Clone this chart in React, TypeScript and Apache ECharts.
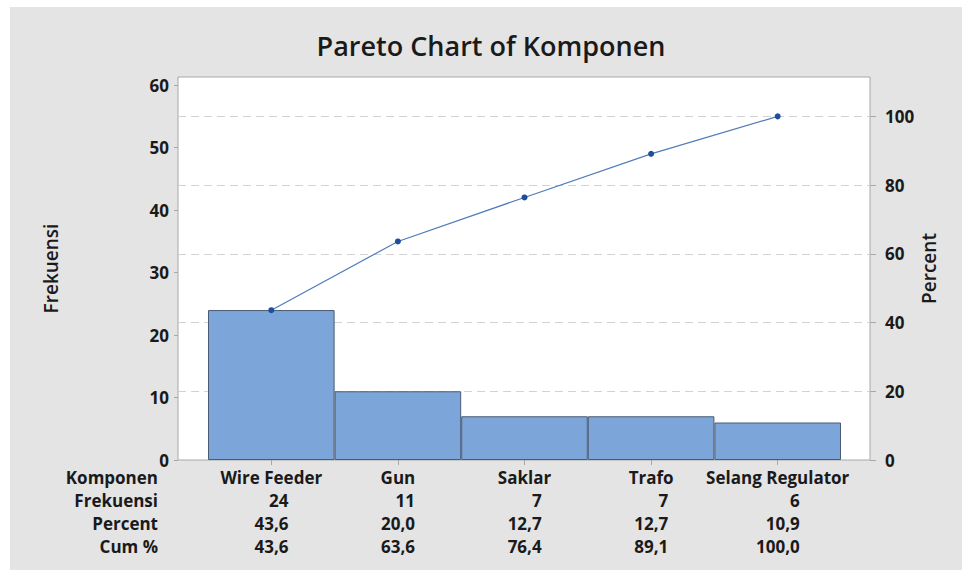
import React, { useEffect, useRef } from "react";
import * as echarts from "echarts";

const titleText = "Pareto Chart of Komponen";
const categories = ["Wire Feeder", "Gun", "Saklar", "Trafo", "Selang Regulator"];
const frekuensi = [24, 11, 7, 7, 6];
const percent = [43.6, 20.0, 12.7, 12.7, 10.9];
const cumPercent = [43.6, 63.6, 76.4, 89.1, 100.0];
const leftTicks = [0, 10, 20, 30, 40, 50, 60];
const rightTicks = [0, 20, 40, 60, 80, 100];
const rowLabels = ["Komponen", "Frekuensi", "Percent", "Cum %"];
const leftAxisName = "Frekuensi";
const rightAxisName = "Percent";

const FONT = "Open Sans";
const TXT = "#1a1a1a";

const fmt = (v: number) => v.toFixed(1).replace(".", ",");

export default function App() {
  const ref = useRef<HTMLDivElement>(null);
  useEffect(() => {
    if (!ref.current) return;
    const chart = echarts.init(ref.current, undefined, { renderer: "svg" });
    const total = frekuensi.reduce((a, b) => a + b, 0);
    const leftMax = 61.3;
    const rightMax = (leftMax / total) * 100;

    const gridTop = 77;
    const gridBottom = 110;
    const axisY = 570 - gridBottom;
    const rowOffset = (ri: number) => 17 + ri * 23;

    const rows: string[][] = [
      categories,
      frekuensi.map((v) => String(v)),
      percent.map(fmt),
      cumPercent.map(fmt),
    ];
    // column widths (widest numeric string per column) for right-aligned numbers
    const strW = (s: string) =>
      s.split("").reduce((a, c) => a + (c === "," ? 4.6 : 9.9), 0);
    const colW = categories.map((_, i) =>
      Math.max(...rows.slice(1).map((r) => strW(r[i])))
    );
    const textStyle = { fontFamily: FONT, fontWeight: "bold" as const, fontSize: 17, color: TXT };
    const rich: Record<string, any> = {};
    colW.forEach((w, i) => {
      rich["c" + i] = { ...textStyle, width: w, align: "right" };
    });

    const tableAxes = rows.map((row, ri) => ({
      gridIndex: 1,
      type: "category",
      data: categories,
      position: "bottom",
      offset: rowOffset(ri),
      axisLine: { show: false },
      axisTick: { show: false },
      axisLabel: {
        ...textStyle,
        verticalAlign: "middle",
        margin: 0,
        interval: 0,
        formatter: (_v: string, idx: number) =>
          ri === 0 ? row[idx] : `{c${idx}|${row[idx]}}`,
        rich: ri === 0 ? undefined : rich,
      },
    }));

    const rowHeaders = rowLabels.map((label, ri) => ({
      type: "text",
      x: 158,
      y: axisY + rowOffset(ri),
      style: {
        text: label,
        align: "right",
        verticalAlign: "middle",
        font: `bold 17px "${FONT}"`,
        fill: TXT,
      },
    }));

    const nameStyle = { fontFamily: FONT, fontWeight: 600, fontSize: 19, color: TXT };

    chart.setOption({
      animation: false,
      backgroundColor: "transparent",
      title: {
        text: titleText,
        left: 486,
        textAlign: "center",
        top: 27,
        textStyle: { fontFamily: FONT, fontWeight: 600, fontSize: 27, color: TXT },
      },
      graphic: { elements: rowHeaders },
      grid: [
        {
          left: 178,
          right: 92,
          top: gridTop,
          bottom: gridBottom,
          show: true,
          backgroundColor: "#ffffff",
          borderColor: "#a8a8a8",
          borderWidth: 1,
        },
        { left: 208, right: 121, top: gridTop, bottom: gridBottom },
      ],
      xAxis: [
        { gridIndex: 0, type: "value", min: 0, max: 1, show: false },
        {
          gridIndex: 1,
          type: "category",
          data: categories,
          axisLine: { show: false },
          axisTick: {
            show: true,
            alignWithLabel: true,
            length: 5,
            lineStyle: { color: "#a8a8a8" },
          },
          axisLabel: { show: false },
        },
        ...tableAxes,
      ],
      yAxis: [
        {
          gridIndex: 0,
          type: "value",
          min: 0,
          max: rightMax,
          interval: 20,
          axisLine: { show: false },
          axisTick: { show: false },
          axisLabel: { show: false },
          splitLine: {
            show: true,
            lineStyle: {
              type: [8, 5],
              color: [
                "rgba(0,0,0,0)",
                "#d2d2d2",
                "#d2d2d2",
                "#d2d2d2",
                "#d2d2d2",
                "#d2d2d2",
                "rgba(0,0,0,0)",
              ],
            },
          },
        },
        {
          gridIndex: 1,
          type: "value",
          position: "left",
          offset: 30,
          min: 0,
          max: leftMax,
          interval: 10,
          axisLine: { show: false },
          axisTick: {
            show: true,
            length: 4,
            lineStyle: { color: "#a8a8a8" },
            customValues: leftTicks,
          },
          axisLabel: { ...textStyle, margin: 9, customValues: leftTicks },
          splitLine: { show: false },
          name: leftAxisName,
          nameLocation: "middle",
          nameRotate: 90,
          nameGap: 118,
          nameMoveOverlap: false,
          nameTextStyle: nameStyle,
        },
        {
          gridIndex: 1,
          type: "value",
          position: "right",
          offset: 29,
          min: 0,
          max: rightMax,
          interval: 20,
          axisLine: { show: false },
          axisTick: {
            show: true,
            length: 6,
            lineStyle: { color: "#a8a8a8" },
            customValues: rightTicks,
          },
          axisLabel: { ...textStyle, margin: 15, customValues: rightTicks },
          splitLine: { show: false },
          name: rightAxisName,
          nameLocation: "middle",
          nameRotate: 90,
          nameGap: 49,
          nameMoveOverlap: false,
          nameTextStyle: nameStyle,
        },
      ],
      series: [
        {
          type: "bar",
          xAxisIndex: 1,
          yAxisIndex: 1,
          data: frekuensi,
          barWidth: "100%",
          itemStyle: { color: "#7ca6d9", borderColor: "#4a5b73", borderWidth: 1 },
        },
        {
          type: "line",
          xAxisIndex: 1,
          yAxisIndex: 2,
          data: cumPercent,
          symbol: "circle",
          symbolSize: 6,
          lineStyle: { color: "#4f7cba", width: 1.2 },
          itemStyle: { color: "#1b4f9c" },
        },
      ],
    });
    return () => chart.dispose();
  }, []);

  return (
    <div style={{ position: "absolute", left: 0, top: 0, width: 962, height: 570, background: "#ffffff" }}>
      <div
        style={{
          position: "absolute",
          left: 10,
          top: 7,
          width: 952,
          height: 563,
          background: "#e4e4e4",
        }}
      />
      <div ref={ref} style={{ position: "absolute", left: 0, top: 0, width: 962, height: 570 }} />
    </div>
  );
}
